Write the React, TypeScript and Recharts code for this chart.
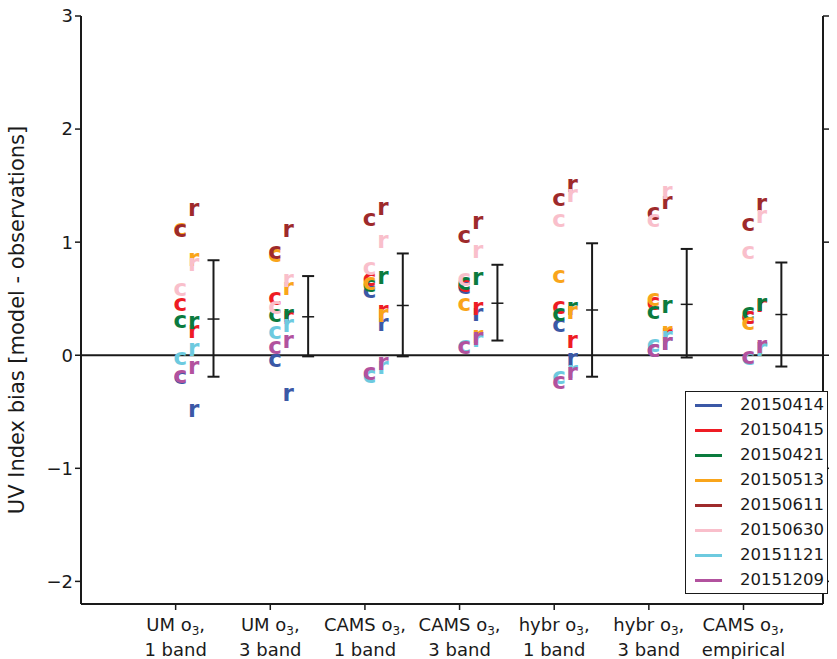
import React from 'react';
import {
  ComposedChart,
  Scatter,
  ErrorBar,
  XAxis,
  YAxis,
  ReferenceLine,
} from 'recharts';

// category labels (line 1 is "<name> o" + subscript 3 + ",")
const CAT_NAMES = ['UM', 'UM', 'CAMS', 'CAMS', 'hybr', 'hybr', 'CAMS'];
const CAT_LINE2 = ['1 band', '3 band', '1 band', '3 band', '1 band', '3 band', 'empirical'];
const CAT_POS = [1, 2, 3, 4, 5, 6, 7];

const DATES = ['20150414', '20150415', '20150421', '20150513', '20150611', '20150630', '20151121', '20151209'];
const COLORS = ['#3b58a6', '#ee1c24', '#0b7b3e', '#f9a51b', '#9e2a2b', '#f9bfcb', '#6dcadf', '#b2529e'];

// "c" markers, one value per category
const C_0414 = [-0.2, -0.05, 0.56, 0.6, 0.26, 0.04, 0.33];
const C_0415 = [0.45, 0.5, 0.67, 0.62, 0.42, 0.46, 0.33];
const C_0421 = [0.3, 0.35, 0.62, 0.63, 0.36, 0.38, 0.37];
const C_0513 = [1.11, 0.88, 0.63, 0.45, 0.7, 0.49, 0.28];
const C_0611 = [1.1, 0.91, 1.2, 1.05, 1.38, 1.25, 1.16];
const C_0630 = [0.58, 0.42, 0.77, 0.67, 1.19, 1.19, 0.91];
const C_1121 = [-0.03, 0.2, -0.19, 0.08, -0.2, 0.09, -0.03];
const C_1209 = [-0.19, 0.07, -0.16, 0.07, -0.24, 0.04, -0.02];

// "r" markers
const R_0414 = [-0.49, -0.35, 0.27, 0.36, -0.04, 0.1, 0.06];
const R_0415 = [0.21, 0.33, 0.39, 0.41, 0.12, 0.18, 0.44];
const R_0421 = [0.29, 0.35, 0.69, 0.68, 0.41, 0.43, 0.45];
const R_0513 = [0.85, 0.59, 0.35, 0.17, 0.38, 0.2, 0.06];
const R_0611 = [1.29, 1.1, 1.3, 1.17, 1.5, 1.35, 1.33];
const R_0630 = [0.8, 0.66, 1.01, 0.92, 1.41, 1.44, 1.23];
const R_1121 = [0.05, 0.26, -0.11, 0.13, -0.14, 0.16, 0.05];
const R_1209 = [-0.11, 0.12, -0.07, 0.15, -0.16, 0.1, 0.08];

const C_VALS = [C_0414, C_0415, C_0421, C_0513, C_0611, C_0630, C_1121, C_1209];
const R_VALS = [R_0414, R_0415, R_0421, R_0513, R_0611, R_0630, R_1121, R_1209];

// mean and range bars
const BAR_LOW = [-0.19, -0.01, -0.01, 0.13, -0.19, -0.02, -0.1];
const BAR_MID = [0.32, 0.34, 0.44, 0.46, 0.4, 0.45, 0.36];
const BAR_HIGH = [0.84, 0.7, 0.9, 0.8, 0.99, 0.94, 0.82];

const Y_TICKS = [-2, -1, 0, 1, 2, 3];
const FONT = '"DejaVu Sans", sans-serif';
const INK = '#1a1a1a';

const C_OFF = 0.05;
const R_OFF = 0.19;
const BAR_OFF = 0.4;

const toPoints = (vals: number[], off: number) =>
  vals.map((y, i) => ({ x: CAT_POS[i] + off, y }));

const barData = CAT_POS.map((p, i) => ({
  x: p + BAR_OFF,
  y: BAR_MID[i],
  err: [BAR_MID[i] - BAR_LOW[i], BAR_HIGH[i] - BAR_MID[i]],
}));

const letterShape = (ch: string, color: string) => (props: any) => {
  const { cx, cy } = props;
  return (
    <text
      x={cx}
      y={cy + 6.5}
      textAnchor="middle"
      fontFamily={FONT}
      fontWeight="bold"
      fontSize={23}
      fill={color}
    >
      {ch}
    </text>
  );
};

const midTick = (props: any) => {
  const { cx, cy } = props;
  return <line x1={cx - 6} x2={cx + 6} y1={cy} y2={cy} stroke={INK} strokeWidth={1.5} />;
};

function CatTick({ x, y, payload }: any) {
  const i = CAT_POS.indexOf(payload.value);
  if (i < 0) return <g />;
  return (
    <g transform={`translate(${x},${y})`} fontFamily={FONT} fontSize={18} fill={INK}>
      <text x={0} y={19} textAnchor="middle">
        {CAT_NAMES[i]} o
        <tspan fontSize={12} dy={4}>3</tspan>
        <tspan dy={-4}>,</tspan>
      </text>
      <text x={0} y={44} textAnchor="middle">
        {CAT_LINE2[i]}
      </text>
    </g>
  );
}

const fmtY = (v: number) => (v < 0 ? `\u2212${-v}` : `${v}`);

function LegendBox() {
  return (
    <div
      style={{
        position: 'absolute',
        left: 685,
        top: 391,
        width: 141,
        height: 201,
        border: `1.5px solid ${INK}`,
        background: '#fff',
        fontFamily: FONT,
        fontSize: 16.5,
        color: INK,
      }}
    >
      {DATES.map((d, i) => (
        <div key={d} style={{ position: 'absolute', left: 0, top: 1 + i * 25, height: 25, width: 141 }}>
          <div style={{ position: 'absolute', left: 9, top: 11, width: 27, height: 3, background: COLORS[i] }} />
          <div style={{ position: 'absolute', left: 54, top: 2, lineHeight: '20px' }}>{d}</div>
        </div>
      ))}
    </div>
  );
}

export default function App() {
  return (
    <div style={{ position: 'absolute', left: 0, top: 0, width: 837, height: 659, background: '#fff' }}>
      <ComposedChart width={837} height={659} margin={{ top: 16, right: 0, bottom: 0, left: 0 }}>
        <XAxis
          xAxisId="b"
          type="number"
          dataKey="x"
          domain={[0, 7.84]}
          ticks={CAT_POS}
          interval={0}
          allowDataOverflow
          height={55}
          tick={<CatTick />}
          tickSize={6}
          axisLine={{ stroke: INK, strokeWidth: 2 }}
          tickLine={{ stroke: INK, strokeWidth: 1.5 }}
        />
        <XAxis
          xAxisId="t"
          orientation="top"
          type="number"
          domain={[0, 7.84]}
          ticks={CAT_POS}
          interval={0}
          allowDataOverflow
          height={0}
          tick={() => <g />}
          tickSize={6}
          axisLine={{ stroke: INK, strokeWidth: 2 }}
          tickLine={{ stroke: INK, strokeWidth: 1.5 }}
        />
        <YAxis
          yAxisId="l"
          type="number"
          dataKey="y"
          domain={[-2.2, 3]}
          ticks={Y_TICKS}
          interval={0}
          allowDataOverflow
          width={81}
          tickFormatter={fmtY}
          tickSize={6}
          tick={{ fontFamily: FONT, fontSize: 18, fill: INK }}
          axisLine={{ stroke: INK, strokeWidth: 2 }}
          tickLine={{ stroke: INK, strokeWidth: 1.5 }}
          label={() => (
            <text
              transform="translate(24,320) rotate(-90)"
              textAnchor="middle"
              fontFamily={FONT}
              fontSize={21}
              fill={INK}
            >
              UV Index bias [model - observations]
            </text>
          )}
        />
        <YAxis
          yAxisId="r"
          orientation="right"
          type="number"
          domain={[-2.2, 3]}
          ticks={Y_TICKS}
          interval={0}
          allowDataOverflow
          width={14}
          tick={() => <g />}
          tickSize={6}
          axisLine={{ stroke: INK, strokeWidth: 2 }}
          tickLine={{ stroke: INK, strokeWidth: 1.5 }}
        />
        <ReferenceLine xAxisId="b" yAxisId="l" y={0} stroke={INK} strokeWidth={2} />
        {DATES.flatMap((d, k) => [
          <Scatter
            key={`c-${d}`}
            xAxisId="b"
            yAxisId="l"
            data={toPoints(C_VALS[k], C_OFF)}
            shape={letterShape('c', COLORS[k])}
            isAnimationActive={false}
          />,
          <Scatter
            key={`r-${d}`}
            xAxisId="b"
            yAxisId="l"
            data={toPoints(R_VALS[k], R_OFF)}
            shape={letterShape('r', COLORS[k])}
            isAnimationActive={false}
          />,
        ])}
        <Scatter xAxisId="b" yAxisId="l" data={barData} shape={midTick} isAnimationActive={false}>
          <ErrorBar dataKey="err" direction="y" width={6} stroke={INK} strokeWidth={2} />
        </Scatter>
      </ComposedChart>
      <LegendBox />
    </div>
  );
}
